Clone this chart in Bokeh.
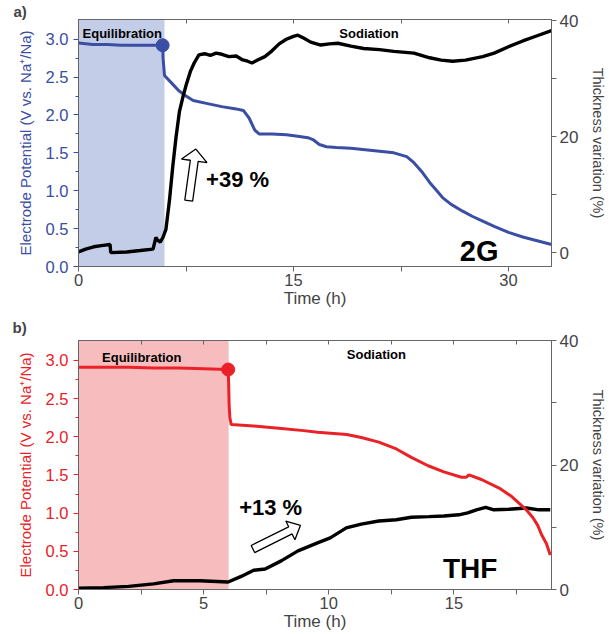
import math
from bokeh.plotting import figure
from bokeh.models import (Range1d, LinearAxis, FixedTicker, BoxAnnotation, Label,
                          PrintfTickFormatter)
from bokeh.layouts import column
from bokeh.embed import file_html
from bokeh.resources import INLINE

FONT = "Liberation Sans"

# ---------------- data: panel a) 2G ----------------
t_pot_a = [0, 0.5, 1.0, 2.0, 3.0, 4.0, 5.0, 5.87, 5.9, 6.0, 6.5, 7.0, 7.5, 8.0, 9.0, 10.0, 11.0, 11.5,
           11.9, 12.3, 12.6, 13.5, 14.5, 15.3, 16.0, 16.4, 16.8, 17.3, 18.0, 19.0, 20.0, 21.0, 22.0,
           22.9, 23.4, 24.0, 24.5, 25.0, 25.4, 26.0, 26.8, 27.5, 28.2, 29.0, 30.0, 31.0, 32.0, 33.0]
pot_a = [2.95, 2.94, 2.93, 2.93, 2.92, 2.92, 2.92, 2.92, 2.75, 2.52, 2.42, 2.32, 2.25, 2.19, 2.15,
         2.11, 2.08, 2.06, 1.96, 1.80, 1.75, 1.75, 1.74, 1.72, 1.70, 1.67, 1.61, 1.58, 1.57, 1.56,
         1.54, 1.52, 1.50, 1.45, 1.37, 1.24, 1.11, 1.00, 0.91, 0.82, 0.73, 0.66, 0.60, 0.53, 0.45,
         0.39, 0.34, 0.29]
t_thk_a = [0, 0.5, 1.06, 1.6, 2.2, 2.25, 3.36, 4.3, 5.2, 5.4, 5.5, 5.7, 5.89, 6.1, 6.35, 6.57, 6.8,
           7.04, 7.3, 7.5, 7.8, 8.07, 8.4, 8.8, 9.2, 9.6, 10.0, 10.5, 11.0, 11.4, 11.8, 12.1, 12.5,
           13.0, 13.5, 14.0, 14.5, 15.0, 15.3, 15.7, 16.2, 16.9, 17.5, 18.1, 19.0, 19.9, 21.0, 22.0,
           23.4, 24.5, 25.3, 26.1, 27.0, 28.2, 29.0, 30.0, 31.0, 32.0, 33.0]
thk_a = [0.1, 0.6, 1.0, 1.2, 1.4, 0.0, 0.1, 0.35, 0.6, 2.6, 2.2, 1.8, 2.6, 4.0, 9.1, 14.7, 19.8,
         24.3, 27.0, 28.8, 31.2, 32.7, 34.1, 34.3, 34.0, 34.4, 34.2, 33.8, 33.9, 33.3, 33.0, 32.7,
         33.2, 33.8, 34.8, 36.0, 36.8, 37.3, 37.5, 37.0, 36.3, 35.8, 36.0, 36.1, 35.6, 35.2, 35.0,
         34.7, 34.4, 33.6, 33.2, 33.0, 33.2, 33.8, 34.4, 35.5, 36.5, 37.4, 38.3]
start_a = (5.87, 2.92)
equil_end_a = 6.0

# ---------------- data: panel b) THF ----------------
t_pot_b = [0, 1, 2, 3, 4, 5, 5.98, 6.0, 6.02, 6.05, 6.1, 7, 8, 9, 9.55, 10.72, 11.3, 12.0, 12.7,
           13.3, 13.97, 14.6, 15.3, 15.5, 15.6, 16.1, 16.85, 17.3, 17.6, 17.9, 18.16, 18.35, 18.5,
           18.7, 18.85]
pot_b = [2.91, 2.91, 2.91, 2.90, 2.90, 2.89, 2.88, 2.70, 2.40, 2.25, 2.16, 2.14, 2.11, 2.08, 2.06,
         2.03, 1.99, 1.93, 1.84, 1.73, 1.62, 1.54, 1.47, 1.47, 1.50, 1.44, 1.32, 1.22, 1.13, 1.04,
         0.94, 0.84, 0.72, 0.60, 0.45]
t_thk_b = [0, 1, 2, 2.5, 3, 3.8, 4.85, 5.98, 6.5, 7.0, 7.46, 8.1, 8.77, 9.55, 10.06, 10.7, 11.3,
           12.0, 12.7, 13.3, 14.0, 14.6, 15.2, 15.55, 15.9, 16.27, 16.6, 17.2, 17.9, 18.4, 18.85]
thk_b = [0.2, 0.3, 0.5, 0.7, 0.9, 1.4, 1.4, 1.2, 2.1, 3.1, 3.3, 4.6, 6.2, 7.5, 8.3, 9.9, 10.5,
         11.0, 11.2, 11.6, 11.7, 11.8, 12.0, 12.3, 12.8, 13.2, 12.8, 12.9, 13.1, 12.8, 12.8]
start_b = (5.98, 2.88)
equil_end_b = 6.0

pot_ticks = [0.0, 0.5, 1.0, 1.5, 2.0, 2.5, 3.0]
pot_minor = [0.25, 0.75, 1.25, 1.75, 2.25, 2.75]
thk_ticks = [0, 20, 40]
thk_minor = [10, 30]

BLUE = "#3a4ea3"
BLUE_FILL = "#c3cde8"
RED = "#ea2228"
RED_FILL = "#f7bcbe"
GRAY = "#666666"

FIG_W = 609


def block_arrow(tail, tip, sx, sy, w, hw, hl):
    X0, Y0 = tail[0] * sx, tail[1] * sy
    X1, Y1 = tip[0] * sx, tip[1] * sy
    dx, dy = X1 - X0, Y1 - Y0
    L = math.hypot(dx, dy)
    ux, uy = dx / L, dy / L
    nx, ny = -uy, ux
    Bx, By = X1 - ux * hl, Y1 - uy * hl
    pts = [(X0 + nx * w, Y0 + ny * w), (Bx + nx * w, By + ny * w), (Bx + nx * hw, By + ny * hw),
           (X1, Y1), (Bx - nx * hw, By - ny * hw), (Bx - nx * w, By - ny * w),
           (X0 - nx * w, Y0 - ny * w)]
    return [p[0] / sx for p in pts], [p[1] / sy for p in pts]


def make_panel(xr, xticks, xminor, yr, thk_range, color, fill, t_pot, pot, t_thk, thk, start,
               equil_end, height, borders, tag, tag_offset, tag_standoff, texts, arrow,
               pot_on_top):
    bl, br, bt, bb = borders
    p = figure(width=FIG_W, height=height, x_range=Range1d(*xr), y_range=Range1d(*yr),
               output_backend="svg", toolbar_location=None, min_border_left=bl,
               min_border_right=br, min_border_top=bt, min_border_bottom=bb)
    fw = FIG_W - bl - br
    fh = height - bt - bb
    p.extra_y_ranges = {"thk": Range1d(*thk_range)}
    p.xgrid.visible = False
    p.ygrid.visible = False
    p.outline_line_color = GRAY
    p.outline_line_width = 1
    p.background_fill_color = "white"
    p.border_fill_color = "white"

    p.add_layout(BoxAnnotation(left=xr[0], right=equil_end, fill_color=fill, fill_alpha=1.0,
                               line_color=None, level="underlay"))

    if pot_on_top:
        p.line(t_thk, thk, y_range_name="thk", color="black", line_width=3.4)
        p.line(t_pot, pot, color=color, line_width=3)
    else:
        p.line(t_pot, pot, color=color, line_width=3)
        p.line(t_thk, thk, y_range_name="thk", color="black", line_width=3.4)
    p.scatter([start[0]], [start[1]], size=13, color=color)

    # bottom axis
    xa = p.xaxis[0]
    xa.ticker = FixedTicker(ticks=xticks, minor_ticks=xminor)
    xa.axis_label = "Time (h)"
    xa.axis_label_text_font = FONT
    xa.axis_label_text_font_size = "17px"
    xa.axis_label_text_font_style = "normal"
    xa.axis_label_standoff = 0
    xa.major_label_text_font = FONT
    xa.major_label_text_font_size = "16.5px"
    xa.major_label_standoff = 2
    xa.axis_line_color = GRAY
    xa.major_tick_line_color = GRAY
    xa.minor_tick_line_color = GRAY
    xa.major_tick_in = 0
    xa.major_tick_out = 5
    xa.minor_tick_in = 0
    xa.minor_tick_out = 5

    # top mirror axis (ticks only)
    ta = LinearAxis(ticker=FixedTicker(ticks=xticks, minor_ticks=xminor))
    ta.major_label_overrides = {float(t): "" for t in xticks}
    ta.major_label_standoff = 0
    ta.axis_line_color = GRAY
    ta.major_tick_line_color = GRAY
    ta.minor_tick_line_color = GRAY
    ta.major_tick_in = 4
    ta.major_tick_out = 0
    ta.minor_tick_in = 4
    ta.minor_tick_out = 0
    p.add_layout(ta, "above")

    # left axis
    ya = p.yaxis[0]
    ya.ticker = FixedTicker(ticks=pot_ticks, minor_ticks=pot_minor)
    ya.formatter = PrintfTickFormatter(format="%.1f")
    ya.axis_label = "Electrode Potential (V vs. Na\u207a/Na)"
    ya.axis_label_text_font = FONT
    ya.axis_label_text_font_size = "15px"
    ya.axis_label_text_font_style = "normal"
    ya.axis_label_text_color = color
    ya.axis_label_standoff = 9
    ya.major_label_text_font = FONT
    ya.major_label_text_font_size = "16.5px"
    ya.major_label_text_color = color
    ya.major_label_standoff = 5
    ya.axis_line_color = GRAY
    ya.major_tick_line_color = color
    ya.minor_tick_line_color = color
    ya.major_tick_in = 0
    ya.major_tick_out = 5
    ya.minor_tick_in = 0
    ya.minor_tick_out = 3

    # right axis
    ra = LinearAxis(y_range_name="thk", ticker=FixedTicker(ticks=thk_ticks, minor_ticks=thk_minor))
    ra.axis_label = "Thickness variation (%)"
    ra.axis_label_text_font = FONT
    ra.axis_label_text_font_size = "14.5px"
    ra.axis_label_text_font_style = "normal"
    ra.axis_label_standoff = 9
    ra.major_label_text_font = FONT
    ra.major_label_text_font_size = "17px"
    ra.major_label_standoff = 3
    ra.axis_line_color = GRAY
    ra.major_tick_line_color = GRAY
    ra.minor_tick_line_color = GRAY
    ra.major_tick_in = 0
    ra.major_tick_out = 5
    ra.minor_tick_in = 0
    ra.minor_tick_out = 5
    p.add_layout(ra, "right")

    # panel tag as title
    p.title.text = tag
    p.title.text_font = FONT
    p.title.text_font_size = "15px"
    p.title.text_font_style = "bold"
    p.title.align = "left"
    p.title.offset = tag_offset
    p.title.standoff = tag_standoff

    for (tx, ty, txt, size) in texts:
        p.add_layout(Label(x=tx, y=ty, text=txt, text_font=FONT, text_font_size=size,
                           text_font_style="bold", text_baseline="middle", text_align="left",
                           text_color="black"))

    sx = fw / (xr[1] - xr[0])
    sy = fh / (yr[1] - yr[0])
    ax, ay = block_arrow(arrow[0], arrow[1], sx, sy, arrow[2], arrow[3], arrow[4])
    p.patch(ax, ay, fill_color="white", line_color="black", line_width=1.3)
    return p


pa = make_panel((0, 33.0), [0, 15, 30], [7.5, 22.5], (0, 3.26), (-2.4, 40.2), BLUE, BLUE_FILL,
                t_pot_a, pot_a, t_thk_a, thk_a, start_a, equil_end_a, 310, (78, 53, 18, 42),
                "a)", -65, 0,
                [(0.28, 3.08, "Equilibration", "13px"), (18.2, 3.07, "Sodiation", "13px"),
                 (8.9, 1.15, "+39 %", "22px"), (26.6, 0.20, "2G", "29px")],
                ((7.69, 0.87), (8.19, 1.55), 4.0, 13.0, 12.0), pot_on_top=False)

pb = make_panel((0, 18.9), [0, 5, 10, 15], [2.5, 7.5, 12.5, 17.5], (0, 3.26), (0, 40), RED,
                RED_FILL, t_pot_b, pot_b, t_thk_b, thk_b, start_b, equil_end_b, 323,
                (76, 50, 30, 41), "b)", -66, 9,
                [(0.94, 3.04, "Equilibration", "13px"), (10.72, 3.08, "Sodiation", "13px"),
                 (6.42, 1.07, "+13 %", "22px"), (14.56, 0.27, "THF", "28px")],
                ((6.97, 0.53), (8.87, 0.84), 4.0, 10.5, 11.5), pot_on_top=True)

layout = column(pa, pb, spacing=0)
open("out.html", "w").write(file_html(layout, INLINE))
